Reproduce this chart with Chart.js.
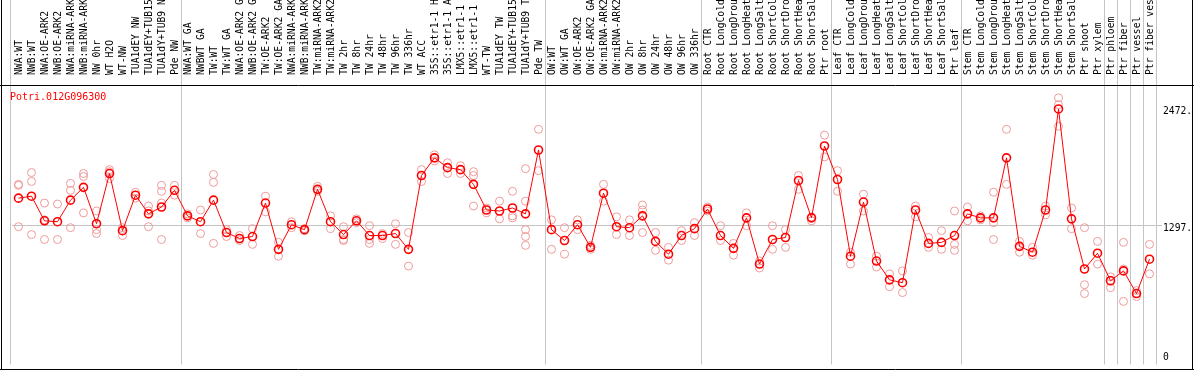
<!DOCTYPE html>
<html>
<head>
<meta charset="utf-8">
<script src="https://cdn.jsdelivr.net/npm/chart.js@4/dist/chart.umd.min.js"></script>
<style>
  html, body { margin: 0; padding: 0; background: #fff; }
  #wrap { width: 1194px; height: 370px; }
</style>
</head>
<body>
<div id="wrap"><canvas id="chart" width="1194" height="370"></canvas></div>
<script>
const geneId = 'Potri.012G096300';

const categories = [
  'NWA:WT', 'NWB:WT', 'NWA:OE-ARK2', 'NWB:OE-ARK2', 'NWA:miRNA-ARK2', 'NWB:miRNA-ARK2',
  'NW 0hr', 'WT H2O', 'WT-NW', 'TUA1dEY NW', 'TUA1dEY+TUB15 NW', 'TUA1dY+TUB9 NW', 'Pde NW',
  'NWA:WT GA', 'NWBWT GA', 'TW:WT', 'TW:WT GA', 'NWA:OE-ARK2 GA', 'NWB:OE-ARK2 GA',
  'TW:OE-ARK2', 'TW:OE-ARK2 GA', 'NWA:miRNA-ARK2 GA', 'NWB:miRNA-ARK2 GA', 'TW:miRNA-ARK2',
  'TW:miRNA-ARK2', 'TW 2hr', 'TW 8hr', 'TW 24hr', 'TW 48hr', 'TW 96hr', 'TW 336hr', 'WT ACC',
  '35S::etr1-1 H2O', '35S::etr1-1 ACC', 'LMX5::etr1-1 H2O', 'LMX5::etr1-1 ACC', 'WT-TW',
  'TUA1dEY TW', 'TUA1dEY+TUB15 TW', 'TUA1dY+TUB9 TW', 'Pde TW',
  'OW:WT', 'OW:WT GA', 'OW:OE-ARK2', 'OW:OE-ARK2 GA', 'OW:miRNA-ARK2', 'OW:miRNA-ARK2',
  'OW 2hr', 'OW 8hr', 'OW 24hr', 'OW 48hr', 'OW 96hr', 'OW 336hr',
  'Root CTR', 'Root LongCold', 'Root LongDrought', 'Root LongHeat', 'Root LongSalt',
  'Root ShortCold', 'Root ShortDrought', 'Root ShortHeat', 'Root ShortSalt', 'Ptr root',
  'Leaf CTR', 'Leaf LongCold', 'Leaf LongDrought', 'Leaf LongHeat', 'Leaf LongSalt',
  'Leaf ShortCold', 'Leaf ShortDrought', 'Leaf ShortHeat', 'Leaf ShortSalt', 'Ptr leaf',
  'Stem CTR', 'Stem LongCold', 'Stem LongDrought', 'Stem LongHeat', 'Stem LongSalt',
  'Stem ShortCold', 'Stem ShortDrought', 'Stem ShortHeat', 'Stem ShortSalt', 'Ptr shoot',
  'Ptr xylem', 'Ptr phloem', 'Ptr fiber', 'Ptr vessel', 'Ptr fiber vessel'
];

// mean expression per sample
const means = [
  1574, 1594, 1346, 1337, 1554, 1683, 1317, 1822, 1247, 1604, 1416, 1485, 1653,
  1396, 1337, 1554, 1228, 1168, 1188, 1525, 1059, 1307, 1257, 1663, 1337, 1208, 1346,
  1198, 1198, 1218, 1059, 1802, 1980, 1881, 1861, 1713, 1455, 1445, 1475, 1416, 2059,
  1257, 1148, 1307, 1079, 1624, 1287, 1277, 1396, 1139, 1010, 1198, 1267,
  1465, 1198, 1069, 1376, 911, 1158, 1178, 1752, 1376, 2099,
  1762, 990, 1535, 941, 752, 723, 1455, 1119, 1129, 1198,
  1416, 1376, 1376, 1980, 1089, 1030, 1455, 2472, 1366, 861, 1020,
  743, 842, 614, 960
];

// individual replicates per sample
const replicates = [
  [1713, 1703, 1287], [1832, 1742, 1208], [1525, 1356, 1158], [1515, 1158],
  [1723, 1653, 1277], [1822, 1792, 1426], [1445, 1257, 1218], [1861, 1841, 1772],
  [1277, 1198], [1634, 1574], [1495, 1445, 1287], [1703, 1643, 1525, 1158], [1703, 1604],
  [1416, 1376], [1455, 1218], [1812, 1733, 1119], [1257, 1188], [1198, 1148], [1267, 1109],
  [1594, 1436], [1129, 990], [1337, 1277], [1267, 1247], [1693, 1643], [1396, 1267],
  [1287, 1158, 1148], [1366, 1327], [1297, 1158, 1119], [1218, 1168], [1317, 1109],
  [1228, 891], [1861, 1742], [2010, 1950], [1931, 1822], [1901, 1822], [1841, 1802, 1495],
  [1475, 1426], [1544, 1366], [1643, 1396, 1376], [1871, 1544, 1257, 1188, 1099], [2267, 1851],
  [1356, 1059], [1277, 1010], [1356, 1257], [1099, 1059], [1713, 1544], [1386, 1208],
  [1356, 1198], [1505, 1455, 1228], [1228, 1049], [1079, 950], [1247, 1148], [1327, 1198],
  [1485, 1445], [1297, 1148], [1119, 1000], [1426, 1297], [941, 871], [1297, 1059],
  [1257, 1079], [1802, 1663], [1386, 1346], [2208, 1990],
  [1851, 1643], [1030, 911], [1614, 1445], [990, 881], [812, 683], [842, 624],
  [1495, 1386], [1178, 1079], [1247, 1059], [1445, 1109, 1049],
  [1485, 1346], [1396, 1356], [1634, 1327, 1158], [2267, 1713], [1139, 1030], [1079, 1000],
  [1495, 1406], [2584, 2515, 2297], [1475, 1267], [1277, 703, 614], [1139, 911],
  [782, 673], [1129, 861, 535], [644, 584], [1109, 812]
];

const yTicks = [0, 1297, 2472];

// sample indices where a new group starts (gray separators)
const groupBreaks = [0, 13, 41, 53, 63, 73, 84, 85, 86, 87, 88];

const MONO = '"DejaVu Sans Mono", "Liberation Mono", monospace';

const maxReps = Math.max(...replicates.map(r => r.length));
const repSets = [];
for (let r = 0; r < maxReps; r++) {
  repSets.push({
    data: replicates.map(a => (a[r] !== undefined ? a[r] : null)),
    showLine: false,
    pointRadius: 4,
    pointBorderWidth: 1,
    pointBorderColor: '#ee9a9a',
    pointBackgroundColor: 'rgba(0,0,0,0)',
    borderColor: '#ee9a9a'
  });
}

const framePlugin = {
  id: 'frame',
  beforeDatasetsDraw(chart) {
    const { ctx, chartArea, scales } = chart;
    ctx.save();
    ctx.strokeStyle = '#c4c4c4';
    ctx.lineWidth = 1;
    groupBreaks.forEach(k => {
      let px = Math.round(scales.x.getPixelForValue(k - 0.5)) + 0.5;
      if (k === 0) px -= 2;
      ctx.beginPath();
      ctx.moveTo(px, 0);
      ctx.lineTo(px, chartArea.bottom);
      ctx.stroke();
    });
    ctx.restore();
  },
  afterDraw(chart) {
    const { ctx, chartArea, width, height } = chart;
    ctx.save();
    ctx.strokeStyle = '#000';
    ctx.lineWidth = 1;
    ctx.beginPath();
    ctx.moveTo(1.5, 0); ctx.lineTo(1.5, height);
    ctx.moveTo(width - 1.5, 0); ctx.lineTo(width - 1.5, height);
    ctx.moveTo(0, chartArea.top + 0.5); ctx.lineTo(width, chartArea.top + 0.5);
    ctx.moveTo(0, height - 0.5); ctx.lineTo(width, height - 0.5);
    ctx.stroke();
    ctx.fillStyle = '#ff0000';
    ctx.font = '10px ' + MONO;
    ctx.textBaseline = 'middle';
    ctx.fillText(geneId, 10, chartArea.top + 12);
    ctx.restore();
  }
};

new Chart(document.getElementById('chart'), {
  type: 'line',
  data: {
    labels: categories,
    datasets: [
      {
        data: means,
        borderColor: '#ff0000',
        borderWidth: 1,
        pointRadius: 4,
        pointBorderWidth: 1.6,
        pointBorderColor: '#ff0000',
        pointBackgroundColor: 'rgba(0,0,0,0)',
        tension: 0
      },
      ...repSets
    ]
  },
  options: {
    responsive: false,
    animation: false,
    layout: { padding: { left: 12, right: 0, top: 0, bottom: 1 } },
    plugins: { legend: { display: false }, tooltip: { enabled: false } },
    scales: {
      x: {
        type: 'category',
        position: 'top',
        offset: true,
        grid: { display: false },
        border: { display: false },
        ticks: {
          autoSkip: false,
          minRotation: 90,
          maxRotation: 90,
          padding: 2,
          labelOffset: 13,
          color: '#000',
          font: { family: MONO, size: 9.7 }
        },
        afterFit(scale) {
          scale.height = 85;
          scale.paddingLeft = 0;
          scale.paddingRight = 0;
        }
      },
      y: {
        type: 'linear',
        position: 'right',
        min: -99,
        max: 2713,
        afterBuildTicks(axis) { axis.ticks = yTicks.map(v => ({ value: v })); },
        border: { display: false },
        grid: {
          color: c => (c.tick && c.tick.value === 1297 ? '#c4c4c4' : 'rgba(0,0,0,0)'),
          tickLength: 6
        },
        ticks: {
          padding: 1,
          labelOffset: 3,
          color: '#000',
          font: { family: MONO, size: 9.7 },
          callback: v => (v === 0 ? '0' : v + '.')
        },
        afterFit(scale) {
          scale.width = 38;
          scale.paddingTop = 0;
          scale.paddingBottom = 0;
        }
      }
    }
  },
  plugins: [framePlugin]
});
</script>
</body>
</html>
